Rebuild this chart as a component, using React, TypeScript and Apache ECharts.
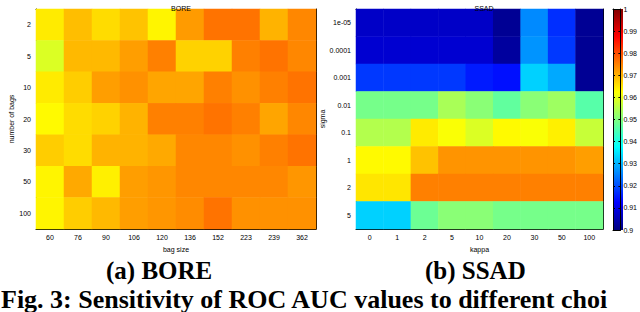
import React, { useEffect, useRef } from "react";
import * as echarts from "echarts";

const boreBagSizes = ["60", "76", "90", "106", "120", "136", "152", "223", "239", "362"];
const boreNumBags = ["2", "5", "10", "20", "30", "50", "100"];
const boreAuc = [
  [0.9645, 0.9689, 0.9659, 0.9684, 0.9635, 0.9723, 0.9763, 0.9763, 0.970, 0.9743],
  [0.959, 0.9694, 0.9694, 0.972, 0.975, 0.9669, 0.9669, 0.975, 0.9763, 0.9743],
  [0.9645, 0.9674, 0.972, 0.9733, 0.9714, 0.9714, 0.975, 0.9733, 0.975, 0.9763],
  [0.963, 0.9659, 0.9669, 0.970, 0.975, 0.975, 0.9763, 0.975, 0.9714, 0.9743],
  [0.9674, 0.9659, 0.970, 0.970, 0.971, 0.9743, 0.9743, 0.9733, 0.975, 0.9763],
  [0.9635, 0.971, 0.964, 0.972, 0.9728, 0.9743, 0.9743, 0.9743, 0.9743, 0.9728],
  [0.9635, 0.9674, 0.9694, 0.972, 0.9728, 0.9738, 0.9763, 0.9733, 0.9733, 0.9733],
];

const ssadKappa = ["0", "1", "2", "5", "10", "20", "30", "50", "100"];
const ssadSigma = ["1e-05", "0.0001", "0.001", "0.01", "0.1", "1", "2", "5"];
const ssadAuc = [
  [0.907, 0.907, 0.907, 0.907, 0.907, 0.902, 0.926, 0.917, 0.902],
  [0.908, 0.908, 0.908, 0.908, 0.908, 0.903, 0.927, 0.918, 0.902],
  [0.918, 0.918, 0.918, 0.918, 0.915, 0.914, 0.933, 0.929, 0.902],
  [0.949, 0.949, 0.949, 0.954, 0.951, 0.947, 0.951, 0.953, 0.946],
  [0.955, 0.955, 0.9645, 0.962, 0.959, 0.963, 0.962, 0.964, 0.957],
  [0.963, 0.963, 0.9685, 0.973, 0.973, 0.973, 0.973, 0.973, 0.972],
  [0.965, 0.965, 0.975, 0.975, 0.975, 0.975, 0.975, 0.975, 0.975],
  [0.933, 0.933, 0.948, 0.951, 0.951, 0.949, 0.949, 0.949, 0.949],
];

const colorMin = 0.9;
const colorMax = 1;
const jet = ["#000080", "#0000ff", "#0080ff", "#00ffff", "#80ff80", "#ffff00", "#ff8000", "#ff0000", "#800000"];

const toCells = (m: number[][]) => {
  const out: [number, number, number][] = [];
  m.forEach((row, y) => row.forEach((v, x) => out.push([x, y, v])));
  return out;
};

const FONT = "Liberation Sans";
const tickFont = { fontFamily: FONT, fontSize: 7, color: "#000" };

const catAxis = (gridIndex: number, data: string[], position: string, showLabel: boolean, inverse = false) => ({
  type: "category",
  gridIndex,
  data,
  position,
  inverse,
  axisLine: { show: true, lineStyle: { color: "#000", width: 1 } },
  axisTick: { show: true, inside: true, alignWithLabel: true, length: 3, interval: 0, lineStyle: { color: "#000" } },
  axisLabel: { show: showLabel, interval: 0, margin: 5, ...tickFont },
  splitLine: { show: false },
});

export default function App() {
  const ref = useRef<HTMLDivElement>(null);
  useEffect(() => {
    if (!ref.current) return;
    const chart = echarts.init(ref.current, null, { renderer: "svg" });
    const cbTop = 9;
    const cbBottom = 230;
    const option: any = {
      animation: false,
      backgroundColor: "#fff",
      grid: [
        { left: 36, top: 9, width: 280, height: 220 },
        { left: 356, top: 9, width: 247, height: 220 },
        { left: 613, top: cbTop, width: 10, height: cbBottom - cbTop },
      ],
      title: [
        { text: "BORE", left: 176, top: 0, textAlign: "center", textStyle: { fontFamily: FONT, fontSize: 7, fontWeight: "normal", color: "#000" } },
        { text: "SSAD", left: 479, top: 0, textAlign: "center", textStyle: { fontFamily: FONT, fontSize: 7, fontWeight: "normal", color: "#000" } },
      ],
      xAxis: [
        { ...catAxis(0, boreBagSizes, "bottom", true), name: "bag size", nameLocation: "middle", nameGap: 12, nameTextStyle: tickFont },
        catAxis(0, boreBagSizes, "top", false),
        { ...catAxis(1, ssadKappa, "bottom", true), name: "kappa", nameLocation: "middle", nameGap: 12, nameTextStyle: tickFont },
        catAxis(1, ssadKappa, "top", false),
        { type: "value", gridIndex: 2, min: 0, max: 1, show: true, axisLine: { show: true, onZero: false, lineStyle: { color: "#000" } }, axisTick: { show: false }, axisLabel: { show: false }, splitLine: { show: false }, position: "bottom" },
        { type: "value", gridIndex: 2, min: 0, max: 1, show: true, axisLine: { show: true, onZero: false, lineStyle: { color: "#000" } }, axisTick: { show: false }, axisLabel: { show: false }, splitLine: { show: false }, position: "top" },
      ],
      yAxis: [
        { ...catAxis(0, boreNumBags, "left", true, true), name: "number of bags", nameLocation: "middle", nameGap: 14, nameTextStyle: tickFont },
        catAxis(0, boreNumBags, "right", false, true),
        { ...catAxis(1, ssadSigma, "left", true, true), name: "sigma", nameLocation: "middle", nameGap: 25, nameTextStyle: tickFont },
        catAxis(1, ssadSigma, "right", false, true),
        {
          type: "value", gridIndex: 2, min: colorMin, max: colorMax, interval: 0.01, position: "right",
          axisLine: { show: true, onZero: false, lineStyle: { color: "#000" } },
          axisTick: { show: true, inside: true, length: 2, lineStyle: { color: "#000" } },
          axisLabel: { show: true, margin: 3, ...tickFont, formatter: (v: number) => String(Math.round(v * 100) / 100) },
          splitLine: { show: false },
        },
        {
          type: "value", gridIndex: 2, min: colorMin, max: colorMax, interval: 0.01, position: "left",
          axisLine: { show: true, onZero: false, lineStyle: { color: "#000" } },
          axisTick: { show: true, inside: true, length: 2, lineStyle: { color: "#000" } },
          axisLabel: { show: false },
          splitLine: { show: false },
        },
      ],
      visualMap: [
        { type: "continuous", show: false, min: colorMin, max: colorMax, seriesIndex: 0, inRange: { color: jet } },
        { type: "continuous", show: false, min: colorMin, max: colorMax, seriesIndex: 1, inRange: { color: jet } },
      ],
      series: [
        { type: "heatmap", xAxisIndex: 0, yAxisIndex: 0, data: toCells(boreAuc), z: 1 },
        { type: "heatmap", xAxisIndex: 2, yAxisIndex: 2, data: toCells(ssadAuc), z: 1 },
        { type: "scatter", xAxisIndex: 4, yAxisIndex: 4, data: [], silent: true },
      ],
      graphic: [
        {
          type: "rect",
          shape: { x: 613, y: cbTop, width: 10, height: cbBottom - cbTop },
          style: {
            fill: new echarts.graphic.LinearGradient(0, 1, 0, 0, jet.map((c, i) => ({ offset: i / (jet.length - 1), color: c }))),
          },
          z: -1,
        },
        { type: "text", left: 106, top: 258, style: { text: "(a) BORE", font: "bold 25px 'Liberation Serif'", fill: "#000" } },
        { type: "text", left: 425, top: 258, style: { text: "(b) SSAD", font: "bold 25px 'Liberation Serif'", fill: "#000" } },
        { type: "text", left: 1, top: 286, style: { text: "Fig. 3: Sensitivity of ROC AUC values to different choi", font: "bold 26px 'Liberation Serif'", fill: "#000" } },
      ],
    };
    chart.setOption(option);
    return () => chart.dispose();
  }, []);
  return <div ref={ref} style={{ width: 640, height: 312, position: "absolute", left: 0, top: 0 }} />;
}
